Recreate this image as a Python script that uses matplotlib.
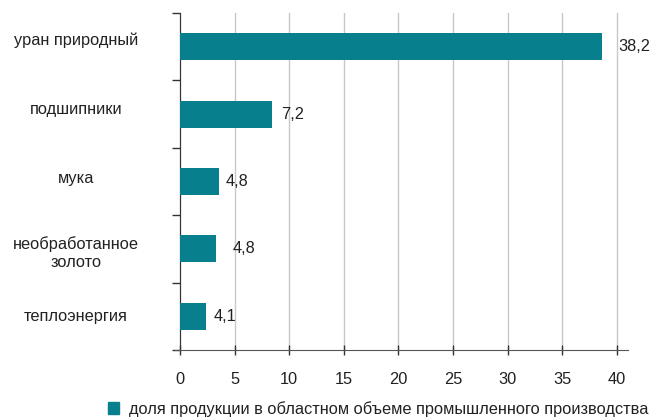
import numpy as np
import matplotlib.pyplot as plt
import matplotlib.transforms as mtransforms
from matplotlib.patches import Patch

plt.rcParams['font.family'] = ['Liberation Sans', 'DejaVu Sans']

categories = ["уран природный", "подшипники", "мука", "необработанное\nзолото", "теплоэнергия"]
bar_len = [38.6, 8.4, 3.6, 3.3, 2.4]
value_labels = ["38,2", "7,2", "4,8", "4,8", "4,1"]
label_pad = [1.5, 0.9, 0.6, 1.5, 0.7]
# vertical nudge of category labels, in points (up is positive)
cat_shift = [6, 4.5, 3, -1, 1]
xticks = [0, 5, 10, 15, 20, 25, 30, 35, 40]
legend_label = "доля продукции в областном объеме промышленного производства"

teal = "#087f8c"
txt = "#222222"
fs = 11.8

fig = plt.figure(figsize=(6.53, 4.19), dpi=100)
ax = fig.add_axes([175/653, 1-350/419, (628-175)/653, (350-13)/419])

# spine position first: moving it resets the tick objects
for s in ['top', 'right']:
    ax.spines[s].set_visible(False)
ax.spines['left'].set_position(('data', 0))
ax.spines['left'].set_color('#333333')
ax.spines['bottom'].set_color('#555555')

y = np.arange(len(categories))
ax.barh(y, bar_len, height=0.4, color=teal, zorder=3)
for i in range(len(y)):
    ax.text(bar_len[i] + label_pad[i], y[i], value_labels[i], va='center', ha='left',
            fontsize=fs, color=txt)

ax.set_xlim(-0.45, 41)
ax.set_ylim(len(categories) - 0.5, -0.5)
ax.set_xticks(xticks)
ax.set_xticklabels([str(t) for t in xticks], fontsize=fs, color=txt)
ax.set_yticks(y)
ax.set_yticklabels(categories, fontsize=fs, color=txt)
ax.set_yticks(np.arange(-0.5, len(categories)), minor=True)
ax.tick_params(axis='y', which='major', length=0, pad=75)
ax.tick_params(axis='y', which='minor', length=6, width=1, color='#333333', direction='out')
ax.tick_params(axis='x', length=7, width=1, color='#333333', direction='inout', pad=12)
for lab, dy in zip(ax.get_yticklabels(), cat_shift):
    lab.set_ha('center')
    lab.set_multialignment('center')
    lab.set_transform(lab.get_transform() +
                      mtransforms.ScaledTranslation(0, dy / 72, fig.dpi_scale_trans))

ax.xaxis.grid(True, color='#c8c8c8', linewidth=1, zorder=0)
ax.set_axisbelow(True)

fig.legend(handles=[Patch(color=teal, label=legend_label)], loc='center',
           bbox_to_anchor=(0.579, 0.024), frameon=False, fontsize=fs,
           handlelength=0.7, handleheight=0.7, handletextpad=0.6, labelcolor=txt,
           borderpad=0, borderaxespad=0)

fig.savefig("out.png", dpi=100)
